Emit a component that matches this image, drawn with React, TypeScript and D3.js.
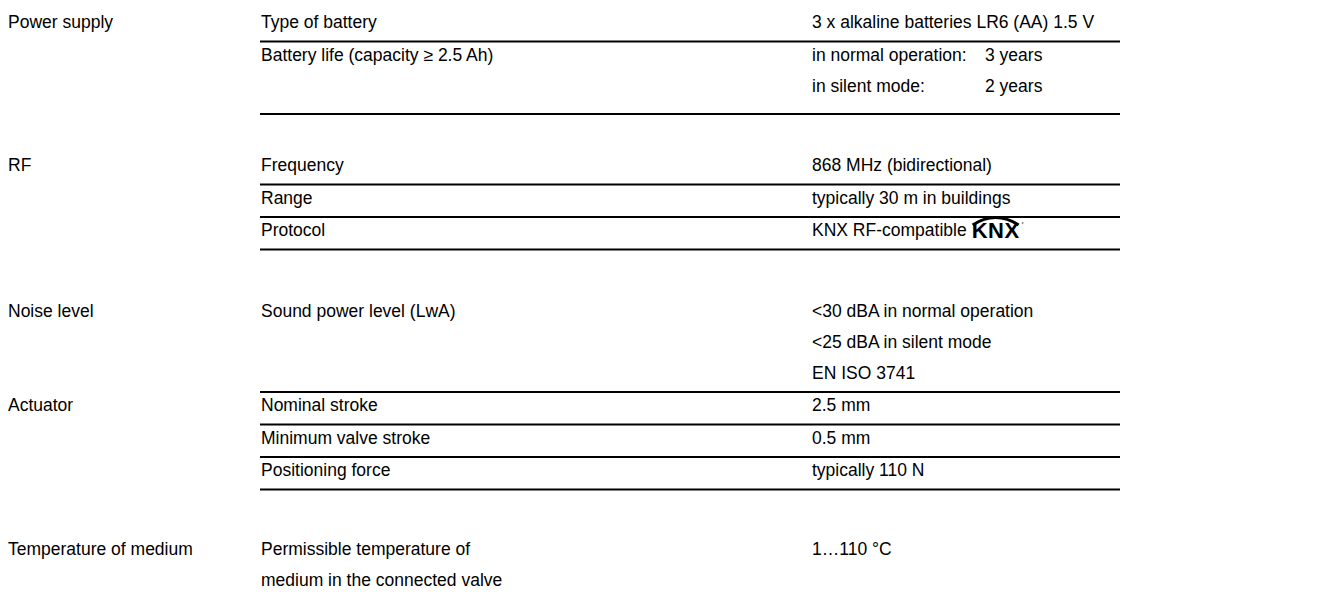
import * as d3 from 'd3';
import { useEffect, useRef } from 'react';

// Table content, one array per column
const sections = ['Power supply', 'RF', 'Noise level', 'Actuator', 'Temperature of medium'];

const parameters: string[][][] = [
    [['Type of battery'], ['Battery life (capacity ≥ 2.5 Ah)']],
    [['Frequency'], ['Range'], ['Protocol']],
    [['Sound power level (LwA)']],
    [['Nominal stroke'], ['Minimum valve stroke'], ['Positioning force']],
    [['Permissible temperature of', 'medium in the connected valve']],
];

type ValueLine = string | [string, string];

const values: ValueLine[][][] = [
    [
        ['3 x alkaline batteries LR6 (AA) 1.5 V'],
        [['in normal operation:', '3 years'], ['in silent mode:', '2 years']],
    ],
    [['868 MHz (bidirectional)'], ['typically 30 m in buildings'], ['KNX RF-compatible']],
    [['<30 dBA in normal operation', '<25 dBA in silent mode', 'EN ISO 3741']],
    [['2.5 mm'], ['0.5 mm'], ['typically 110 N']],
    [['1…110 °C']],
];

// sections whose rows get a rule underneath
const ruledSections = [true, true, true, true, false];
// row that ends with the KNX logo
const logoRow = { section: 1, row: 2, label: 'KNX' };

export default function App() {
    const svgRef = useRef<SVGSVGElement | null>(null);

    useEffect(() => {
        if (!svgRef.current) return;
        const width = 1320;
        const height = 594;
        const font = '"Liberation Sans", Arial, Helvetica, sans-serif';
        const fontSize = 17.5;

        const svg = d3.select(svgRef.current)
            .attr('width', width)
            .attr('height', height);
        svg.selectAll('*').remove();

        // column positions (svg sits inside the 8px body margin)
        const x = d3.scaleOrdinal<string, number>()
            .domain(['section', 'param', 'value', 'tab', 'ruleEnd'])
            .range([0, 253, 804, 977, 1112]);

        const pitch = 31;          // distance between text lines
        const ruleGap = 19.5;      // text centre to rule
        const afterRule = 13;      // rule to next text centre
        const gapBefore = [0, 38, 48, 0, 46.5];

        const g = svg.append('g')
            .attr('font-family', font)
            .attr('font-size', fontSize)
            .attr('fill', '#000');

        const addText = (tx: number, cy: number, s: string) =>
            g.append('text')
                .attr('x', tx)
                .attr('y', cy + 6)
                .text(s);

        let y = 14;
        sections.forEach((section, i) => {
            y += gapBefore[i];
            addText(x('section'), y, section);

            parameters[i].forEach((param, r) => {
                const vals = values[i][r];
                const lines = Math.max(param.length, vals.length);
                param.forEach((p, k) => addText(x('param'), y + k * pitch, p));

                let hasTab = false;
                vals.forEach((v, k) => {
                    const cy = y + k * pitch;
                    if (Array.isArray(v)) {
                        hasTab = true;
                        addText(x('value'), cy, v[0]);
                        addText(x('tab'), cy, v[1]);
                    } else {
                        const t = addText(x('value'), cy, v);
                        if (i === logoRow.section && r === logoRow.row) {
                            const end = x('value') + (t.node() as SVGTextElement).getComputedTextLength();
                            const lx = end + 5;
                            const logo = g.append('text')
                                .attr('x', lx)
                                .attr('y', cy + 8)
                                .attr('font-weight', 'bold')
                                .attr('font-size', 22)
                                .attr('letter-spacing', 0.5)
                                .text(logoRow.label);
                            const lw = (logo.node() as SVGTextElement).getComputedTextLength();
                            const arc = d3.path();
                            arc.moveTo(lx + 1, cy - 5);
                            arc.quadraticCurveTo(lx + lw / 2, cy - 20, lx + lw - 1, cy - 5);
                            g.append('path')
                                .attr('d', arc.toString())
                                .attr('fill', 'none')
                                .attr('stroke', '#000')
                                .attr('stroke-width', 3);
                            g.append('circle')
                                .attr('cx', lx + lw + 3)
                                .attr('cy', cy - 7)
                                .attr('r', 1)
                                .attr('fill', '#888');
                        }
                    }
                });

                const last = y + (lines - 1) * pitch;
                if (ruledSections[i]) {
                    const ry = last + ruleGap + (hasTab ? 9 : 0);
                    g.append('line')
                        .attr('x1', x('param') - 1)
                        .attr('x2', x('ruleEnd'))
                        .attr('y1', ry)
                        .attr('y2', ry)
                        .attr('stroke', '#000')
                        .attr('stroke-width', 2);
                    y = ry + afterRule;
                } else {
                    y = last + pitch;
                }
            });
        });
    }, []);

    return <svg ref={svgRef} style={{ display: 'block' }} />;
}
